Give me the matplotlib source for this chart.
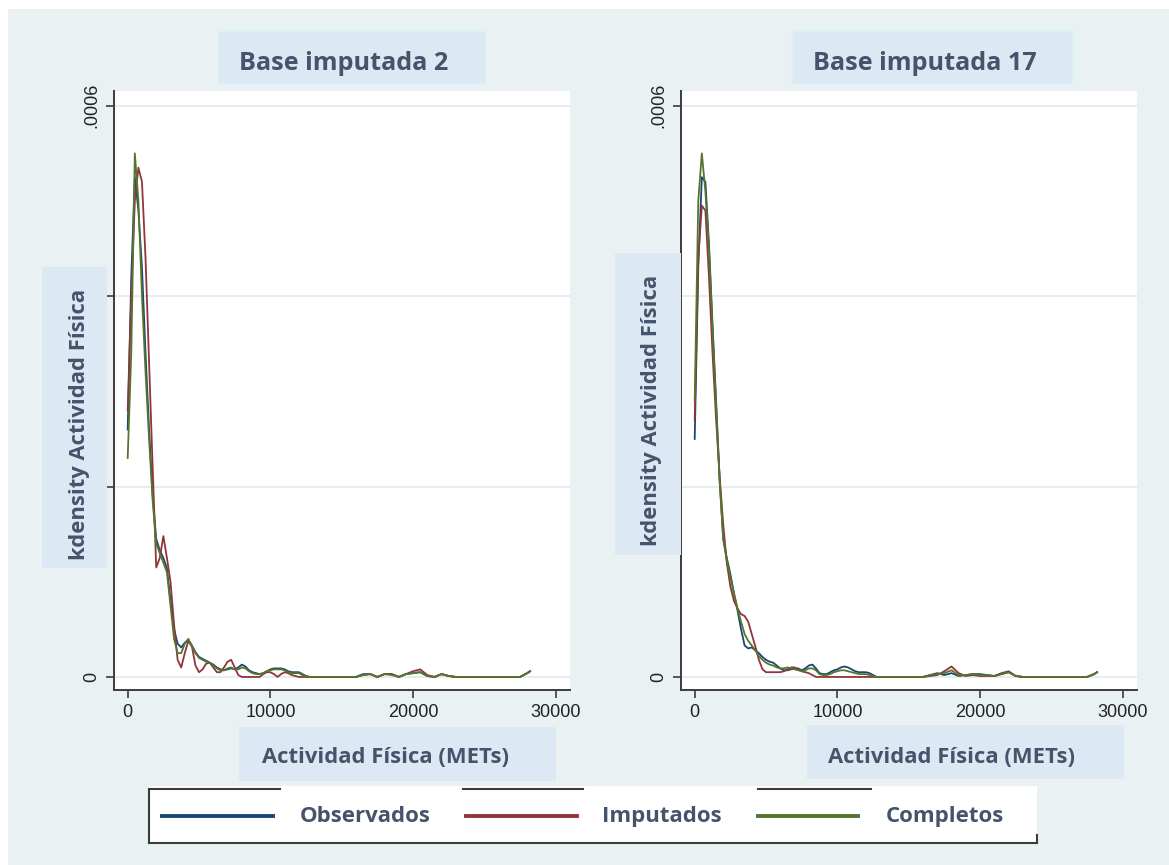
import numpy as np
import matplotlib
matplotlib.use("Agg")
import matplotlib.pyplot as plt
from matplotlib.patches import Rectangle
from matplotlib.lines import Line2D

# grid of x values (METs) shared by all curves
x_head = [0, 250, 500, 750, 1000, 1250, 1500, 1750, 2000, 2250, 2500, 2750,
          3000, 3250, 3500, 3750, 4000, 4250, 4500, 4750, 5000, 5250, 5500, 5750,
          6000, 6250, 6500, 6750, 7000, 7250, 7500, 7750, 8000, 8250, 8500, 8750,
          9000, 9250, 9500, 9750, 10000, 10250, 10500, 10750, 11000, 11250, 11500,
          11750, 12000, 12250, 12500, 12750, 13000]
x_tail = [13500, 14000, 14500, 15000, 15500, 16000, 16500, 17000, 17500, 18000,
          18500, 19000, 19500, 20000, 20500, 21000, 21500, 22000, 22500, 23000,
          23500, 24000, 24500, 25000, 25500, 26000, 26500, 27000, 27500, 28000, 28200]
x_mets = x_head + x_tail

# densities in units of 1e-6 -- Base imputada 2
obs_2 = [260, 420, 525, 490, 430, 340, 260, 190, 145, 133, 125, 114,
         80, 50, 35, 31, 36, 39, 33, 26, 21, 19, 17, 15,
         13, 10, 8, 7, 8, 9, 8, 10, 13, 11, 7, 5,
         4, 3, 4, 6, 8, 9, 9, 9, 8, 6, 5,
         5, 5, 3, 1, 0, 0,
         0, 0, 0, 0, 0, 0, 3, 3, 0, 3, 3, 0, 3, 4, 5, 1, 0, 3, 1, 0,
         0, 0, 0, 0, 0, 0, 0, 0, 0, 4, 6]
imp_2 = [280, 400, 500, 535, 520, 440, 330, 220, 115, 125, 148, 125,
         100, 55, 18, 10, 25, 38, 32, 12, 5, 8, 14, 15,
         10, 5, 5, 10, 16, 18, 10, 2, 0, 0, 0, 0,
         0, 0, 3, 5, 5, 3, 0, 3, 5, 4, 2,
         1, 0, 0, 0, 0, 0,
         0, 0, 0, 0, 0, 0, 2, 3, 0, 3, 3, 0, 3, 6, 8, 2, 0, 3, 1, 0,
         0, 0, 0, 0, 0, 0, 0, 0, 0, 4, 6]
com_2 = [230, 340, 550, 500, 400, 320, 250, 185, 140, 130, 120, 110,
         75, 40, 25, 25, 35, 40, 32, 25, 20, 18, 16, 15,
         12, 9, 7, 7, 9, 10, 8, 8, 10, 9, 6, 4,
         3, 3, 4, 6, 7, 8, 8, 8, 7, 5, 4,
         4, 4, 2, 1, 0, 0,
         0, 0, 0, 0, 0, 0, 2, 3, 0, 3, 2, 0, 3, 4, 5, 1, 0, 3, 1, 0,
         0, 0, 0, 0, 0, 0, 0, 0, 0, 4, 6]

# Base imputada 17
obs_17 = [250, 430, 525, 520, 455, 370, 290, 207, 145, 125, 108, 88,
          70, 50, 33, 30, 31, 28, 25, 21, 18, 16, 15, 12,
          9, 7, 7, 8, 9, 9, 7, 9, 12, 13, 9, 4,
          3, 3, 5, 7, 8, 10, 11, 10, 8, 6, 5,
          5, 5, 4, 2, 0, 0,
          0, 0, 0, 0, 0, 0, 2, 4, 2, 4, 1, 2, 3, 3, 2, 1, 3, 5, 1, 0,
          0, 0, 0, 0, 0, 0, 0, 0, 0, 3, 5]
imp_17 = [270, 440, 495, 490, 420, 340, 270, 210, 160, 120, 95, 80,
          72, 66, 64, 58, 45, 32, 18, 8, 5, 5, 5, 5,
          5, 6, 8, 10, 10, 8, 6, 5, 4, 2, 0, 0,
          0, 0, 0, 0, 0, 0, 0, 0, 0, 0, 0,
          0, 0, 0, 0, 0, 0,
          0, 0, 0, 0, 0, 0, 1, 2, 6, 11, 4, 1, 2, 1, 1, 1, 4, 6, 1, 0,
          0, 0, 0, 0, 0, 0, 0, 0, 0, 3, 5]
com_17 = [290, 500, 550, 510, 450, 365, 285, 205, 145, 122, 105, 88,
          72, 58, 45, 38, 33, 28, 22, 18, 15, 13, 12, 10,
          9, 9, 10, 9, 8, 7, 6, 7, 9, 9, 7, 3,
          2, 2, 3, 5, 6, 7, 7, 6, 5, 4, 3,
          3, 3, 2, 1, 0, 0,
          0, 0, 0, 0, 0, 0, 2, 3, 4, 7, 2, 2, 3, 2, 2, 1, 3, 5, 1, 0,
          0, 0, 0, 0, 0, 0, 0, 0, 0, 3, 5]

panel_titles = ["Base imputada 2", "Base imputada 17"]
series_names = ["Observados", "Imputados", "Completos"]
colors = ["#1a476f", "#90353b", "#55752f"]

W, H = 1169, 865
BG = "#e9f1f3"
BOX = "#dce8f4"
TXT = "#44546a"
FONT = "Open Sans"

fig = plt.figure(figsize=(W / 100, H / 100), dpi=100, facecolor="white")


def fx(px):
    return px / W


def fy(py):
    return 1 - py / H


def box(x0, y0, x1, y1, color=BOX, edge="none", z=1):
    fig.patches.append(Rectangle((fx(x0), fy(y1)), fx(x1) - fx(x0), fy(y0) - fy(y1),
                                 transform=fig.transFigure, facecolor=color,
                                 edgecolor=edge, linewidth=1, zorder=z))


# bluish background with a thin white margin top/left
box(8, 9, W, H, color=BG, z=-5)

# positions in pixels: axes, title box + text centre, y-label box + text centre, x-label box + text centre
panels = [
    dict(ax=(114, 91, 570, 690), title=(218, 31, 485, 83), title_c=344,
         ylab=(42, 267, 107, 568), ylab_c=(80, 424),
         xlab=(239, 727, 556, 781), xlab_c=385, data=(obs_2, imp_2, com_2)),
    dict(ax=(681, 91, 1137, 690), title=(792, 31, 1072, 83), title_c=925,
         ylab=(615, 253, 681, 555), ylab_c=(652, 410),
         xlab=(807, 725, 1124, 779), xlab_c=952, data=(obs_17, imp_17, com_17)),
]

x = np.array(x_mets, dtype=float)
for p, ttl in zip(panels, panel_titles):
    x0, y0, x1, y1 = p["ax"]
    ax = fig.add_axes([fx(x0), fy(y1), fx(x1) - fx(x0), fy(y0) - fy(y1)])
    ax.set_facecolor("white")
    for vals, c in zip(p["data"], colors):
        ax.plot(x, np.array(vals) * 1e-6, color=c, lw=1.3)
    ax.set_xlim(-960, 31000)
    ax.set_ylim(-0.0000137, 0.0006155)
    ax.set_xticks([0, 10000, 20000, 30000])
    ax.set_yticks([0, 0.0002, 0.0004, 0.0006])
    ax.set_yticklabels(["0", "", "", ".0006"], rotation=90, va="center")
    ax.grid(axis="y", color="#e4edf0", lw=1.5)
    ax.set_axisbelow(True)
    for s in ["top", "right"]:
        ax.spines[s].set_visible(False)
    for s in ["left", "bottom"]:
        ax.spines[s].set_color("#3c3c3c")
        ax.spines[s].set_linewidth(1.4)
    ax.tick_params(length=6, width=1.2, color="#3c3c3c", labelsize=13,
                   labelcolor="#222222", pad=4)
    for lab in ax.get_xticklabels() + ax.get_yticklabels():
        lab.set_fontfamily("Liberation Sans")

    # title box
    bx0, by0, bx1, by1 = p["title"]
    box(bx0, by0, bx1, by1, edge="#d6f1fa")
    fig.text(fx(p["title_c"]), fy(70), ttl, ha="center", va="baseline",
             fontsize=18.2, fontweight="bold", family=FONT, color=TXT)
    # y label box
    box(*p["ylab"])
    fig.text(fx(p["ylab_c"][0]), fy(p["ylab_c"][1]), "kdensity Actividad Física",
             ha="center", va="center", rotation=90, fontsize=15.8, fontweight="bold",
             family=FONT, color=TXT)
    # x label box
    box(*p["xlab"])
    fig.text(fx(p["xlab_c"]), fy(763), "Actividad Física (METs)", ha="center",
             va="baseline", fontsize=15.8, fontweight="bold", family=FONT, color=TXT)

# legend: white box with partially drawn frame
box(149, 786, 1037, 843, color="white", z=2)
frame = [((149, 789), (149, 843)), ((149, 843), (1037, 843)), ((1037, 835), (1037, 843)),
         ((149, 789), (280, 789)), ((463, 789), (583, 789)), ((758, 789), (871, 789))]
for (a, b) in frame:
    fig.lines.append(Line2D([fx(a[0]), fx(b[0])], [fy(a[1]), fy(b[1])],
                            transform=fig.transFigure, color="#3c3c3c", lw=1.5, zorder=3))
leg_lines = [(162, 273), (466, 577), (758, 858)]
leg_text = [365, 662, 945]
for (l0, l1), tx, name, c in zip(leg_lines, leg_text, series_names, colors):
    fig.lines.append(Line2D([fx(l0), fx(l1)], [fy(816), fy(816)], transform=fig.transFigure,
                            color=c, lw=2.8, zorder=3))
    fig.text(fx(tx), fy(822), name, ha="center", va="baseline", fontsize=16,
             fontweight="bold", family=FONT, color=TXT, zorder=4)

fig.savefig("out.png", dpi=100, facecolor="white")
